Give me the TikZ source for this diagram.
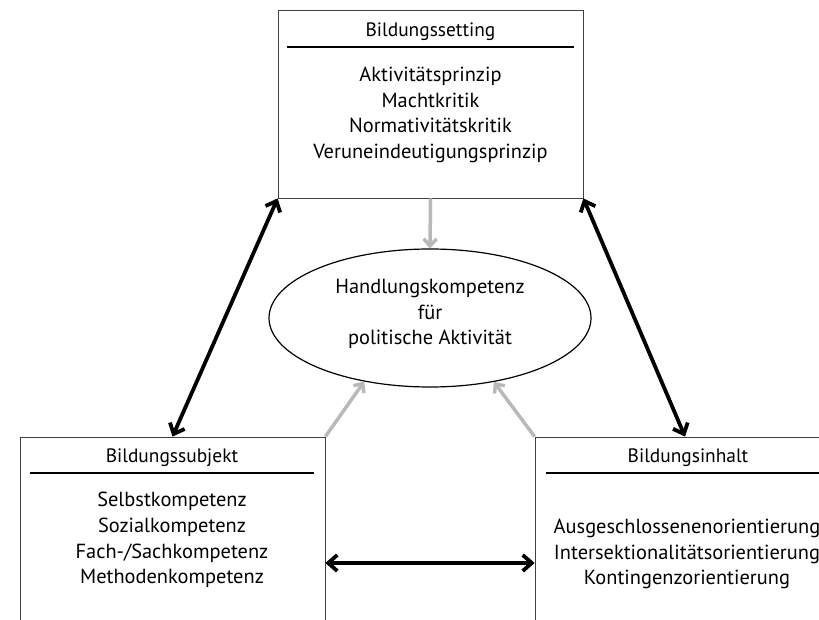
\documentclass[tikz,border=0pt]{standalone}
\usepackage{fontspec}
\setmainfont{PT Sans}
\usetikzlibrary{arrows.meta,shapes.geometric}

\begin{document}
\begin{tikzpicture}[x=1pt,y=-1pt,
	box/.style={draw=black!75,line width=0.8pt,rectangle,minimum width=305pt,minimum height=230pt,inner sep=0pt},
	txt/.style={align=center,font=\fontsize{20.4}{25.7}\selectfont,inner sep=0pt},
	head/.style={txt,font=\fontsize{19.4}{24}\selectfont},
	sep/.style={line width=2pt},
	both/.style={{Straight Barb[length=9pt,width=16pt]}-{Straight Barb[length=9pt,width=16pt]},line width=3.8pt},
	grey/.style={-{Straight Barb[length=7pt,width=13pt]},line width=3.5pt,draw=gray!55}]
	\useasboundingbox (0,0) rectangle (819,620);
	% boxes
	\node[box,minimum height=188pt] (setting) at (430.5,104) {};
	\node[box] (subjekt) at (172.5,552) {};
	\node[box,minimum width=310pt] (inhalt) at (690,552) {};
	\node[draw,ellipse,line width=1.2pt,minimum width=322pt,minimum height=138pt] (komp) at (430,318) {};
	% texts
	\node[head] (settingh) at (430.5,32) {Bildungssetting};
	\node[txt] (settingt) at (430.5,115) {Aktivitätsprinzip\\Machtkritik\\Normativitätskritik\\Veruneindeutigungsprinzip};
	\node[head] (subjekth) at (172,458) {Bildungssubjekt};
	\node[txt] (subjektt) at (172,540) {Selbstkompetenz\\Sozialkompetenz\\Fach-/Sachkompetenz\\Methodenkompetenz};
	\node[head] (inhalth) at (688,458) {Bildungsinhalt};
	\node[txt] (inhaltt) at (687,554) {Ausgeschlossenenorientierung\\Intersektionalitätsorientierung\\Kontingenzorientierung};
	\node[txt] (kompt) at (430,314) {Handlungskompetenz\\für\\politische Aktivität};
	% lines under the headings
	\draw[sep] ([xshift=9pt,yshift=-37pt]setting.north west) -- ([xshift=-9pt,yshift=-37pt]setting.north east);
	\draw[sep] ([xshift=10pt,yshift=-36pt]subjekt.north west) -- ([xshift=-11pt,yshift=-36pt]subjekt.north east);
	\draw[sep] ([xshift=11pt,yshift=-36pt]inhalt.north west) -- ([xshift=-11pt,yshift=-36pt]inhalt.north east);
	% arrows
	\draw[both] (setting.south west) -- (subjekt.north);
	\draw[both] (setting.south east) -- ([xshift=-5pt]inhalt.north);
	\draw[both] ([yshift=-11pt]subjekt.east) -- ([yshift=-11pt]inhalt.west);
	\draw[grey] (setting.south) -- (komp.north);
	\draw[grey] (subjekt.north east) -- (komp.224);
	\draw[grey] (inhalt.north west) -- (komp.315);
\end{tikzpicture}
\end{document}
